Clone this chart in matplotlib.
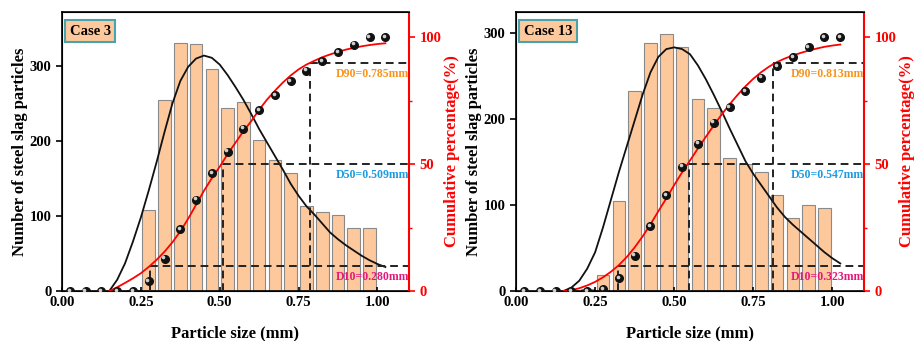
import matplotlib
matplotlib.use("Agg")
import matplotlib.pyplot as plt
from matplotlib.transforms import offset_copy

plt.rcParams['font.family'] = 'Liberation Serif'
plt.rcParams['font.weight'] = 'bold'

# histogram bins (mm)
bin_x = [0.225, 0.275, 0.325, 0.375, 0.425, 0.475, 0.525, 0.575,
         0.625, 0.675, 0.725, 0.775, 0.825, 0.875, 0.925, 0.975]
counts_3 = [2, 108, 255, 331, 329, 296, 244, 252, 202, 175, 158, 113, 105, 101, 84, 84]
counts_13 = [2, 19, 105, 232, 288, 298, 283, 223, 212, 155, 147, 138, 112, 85, 100, 97]

# cumulative points
cum_x = [0.025, 0.075, 0.125, 0.175, 0.225, 0.275, 0.325, 0.375, 0.425, 0.475, 0.525,
         0.575, 0.625, 0.675, 0.725, 0.775, 0.825, 0.875, 0.925, 0.975, 1.025]
cum_3 = [0, 0, 0, 0, 0.1, 3.8, 12.8, 24.4, 36.0, 46.5, 55.0,
         64.0, 71.2, 77.2, 82.8, 86.9, 90.6, 94.1, 97.2, 100, 100]
cum_13 = [0, 0, 0, 0, 0.1, 0.8, 5.0, 14.0, 25.7, 37.7, 49.1,
          58.1, 66.4, 72.6, 78.8, 84.1, 88.6, 92.1, 96.2, 100, 100]

# fitted curves
fit_x = [0.150, 0.175, 0.200, 0.225, 0.250, 0.275, 0.300, 0.325, 0.350, 0.375,
         0.400, 0.425, 0.450, 0.475, 0.500, 0.525, 0.550, 0.575, 0.600, 0.625,
         0.650, 0.675, 0.700, 0.725, 0.750, 0.775, 0.800, 0.825, 0.850, 0.875,
         0.900, 0.925, 0.950, 0.975, 1.000, 1.025]
dist_3 = [0, 15, 37, 66, 98, 134, 172, 212, 250, 280,
          299, 310, 314, 311, 302, 288, 272, 255, 236, 216,
          198, 180, 162, 143, 127, 113, 102, 90, 78, 69,
          61, 54, 47, 41, 36, 32]
cdf_3 = [0, 1.5, 3.2, 5.0, 7.0, 9.5, 12.3, 15.5, 19.2, 23.5,
         28.5, 34, 39.5, 44.5, 49, 54, 58.5, 63, 67, 71.5,
         75.5, 79, 82.2, 85, 87.4, 89.3, 90.8, 92.2, 93.3, 94.3,
         95.2, 95.9, 96.5, 97.0, 97.4, 97.7]
dist_13 = [0, 4, 12, 26, 45, 74, 106, 138, 168, 198,
           228, 254, 272, 281, 283, 281, 275, 262, 246, 228,
           209, 189, 170, 151, 136, 123, 110, 97, 86, 77,
           69, 61, 53, 45, 38, 32]
cdf_13 = [0, 0.3, 1.1, 2.2, 3.6, 5.4, 7.6, 10.2, 13.4, 17.2,
          21.5, 26.3, 31.5, 36.5, 41.8, 46.8, 51.5, 56.2, 60.8, 65.3,
          69.6, 73.6, 77.3, 80.7, 83.7, 86.3, 88.5, 90.3, 91.7, 92.9,
          93.9, 94.8, 95.6, 96.3, 96.8, 97.2]

d_labels = ['D10', 'D50', 'D90']
d_levels = [10, 50, 90]
d_colors = ['#e5177b', '#1b9be0', '#f7941d']
d_3 = [0.280, 0.509, 0.785]
d_13 = [0.323, 0.547, 0.813]

fig = plt.figure(figsize=(9.14, 3.41), dpi=100)


def panel(rect, case, counts, cum, dist, cdf, dvals, ymax):
    ax = fig.add_axes(rect)
    ax.bar(bin_x, counts, width=0.04, color='#fdc99c', edgecolor='#8a8a8a', linewidth=0.8, zorder=1)
    ax.plot(fit_x, dist, color='#111111', lw=1.3, zorder=3)
    ax.set_xlim(0, 1.1)
    ax.set_ylim(0, ymax)
    ax.set_xticks([0, 0.25, 0.5, 0.75, 1.0])
    ax.set_xticklabels(['0.00', '0.25', '0.50', '0.75', '1.00'])
    ax.set_yticks([0, 100, 200, 300])
    ax.tick_params(axis='x', direction='in', length=3, labelsize=10.5, width=1.2)
    ax.tick_params(axis='y', direction='out', length=4, labelsize=10.5, width=1.2)
    ax.set_xlabel('Particle size (mm)', fontsize=12, fontweight='bold', labelpad=12)
    ax.set_ylabel('Number of steel slag particles', fontsize=12, fontweight='bold', labelpad=1)
    for s in ax.spines.values():
        s.set_linewidth(1.2)
    ax.text(0.022, 0.955, case, transform=ax.transAxes, fontsize=10.5, fontweight='bold',
            va='top', ha='left',
            bbox=dict(boxstyle='square,pad=0.3', facecolor='#fdc99c', edgecolor='#4aa3ab', lw=1.5))

    ax2 = ax.twinx()
    ax2.set_ylim(0, 110)
    ax2.set_yticks([0, 50, 100])
    ax2.set_yticks([25, 75], minor=True)
    ax2.tick_params(axis='y', which='major', colors='red', direction='out', length=4,
                    width=1.2, labelsize=10.5)
    ax2.tick_params(axis='y', which='minor', colors='red', direction='out', length=2.5, width=1)
    ax2.spines['right'].set_color('red')
    ax2.spines['right'].set_linewidth(1.5)
    ax.spines['right'].set_visible(False)
    ax2.set_ylabel('Cumulative percentage(%)', color='red', fontsize=12, fontweight='bold', labelpad=2)

    # D10 / D50 / D90 guides
    for lab, lev, col, dv in zip(d_labels, d_levels, d_colors, dvals):
        ax2.plot([dv, dv], [0, lev], color='#222222', ls=(0, (4, 2.5)), lw=1.4, zorder=2)
        ax2.plot([dv, 1.1], [lev, lev], color='#222222', ls=(0, (4, 2.5)), lw=1.4, zorder=2)
        ax2.text(1.1, lev - 2, '%s=%.3fmm' % (lab, dv), color=col, fontsize=8.5,
                 fontweight='bold', ha='right', va='top')

    ax2.plot(fit_x, cdf, color='red', lw=1.3, zorder=4)
    ax2.plot(cum_x, cum, 'o', color='#111111', ms=5.5, zorder=5)
    shine = offset_copy(ax2.transData, fig=fig, x=-0.9, y=0.9, units='points')
    ax2.plot(cum_x, cum, 'o', color='#cfcfcf', ms=1.6, zorder=6, transform=shine)
    return ax, ax2


panel([0.0678, 0.1466, 0.3797, 0.818], 'Case 3', counts_3, cum_3, dist_3, cdf_3, d_3, 372)
panel([0.5646, 0.1466, 0.3807, 0.818], 'Case 13', counts_13, cum_13, dist_13, cdf_13, d_13, 324)

fig.savefig('out.png', dpi=100)
